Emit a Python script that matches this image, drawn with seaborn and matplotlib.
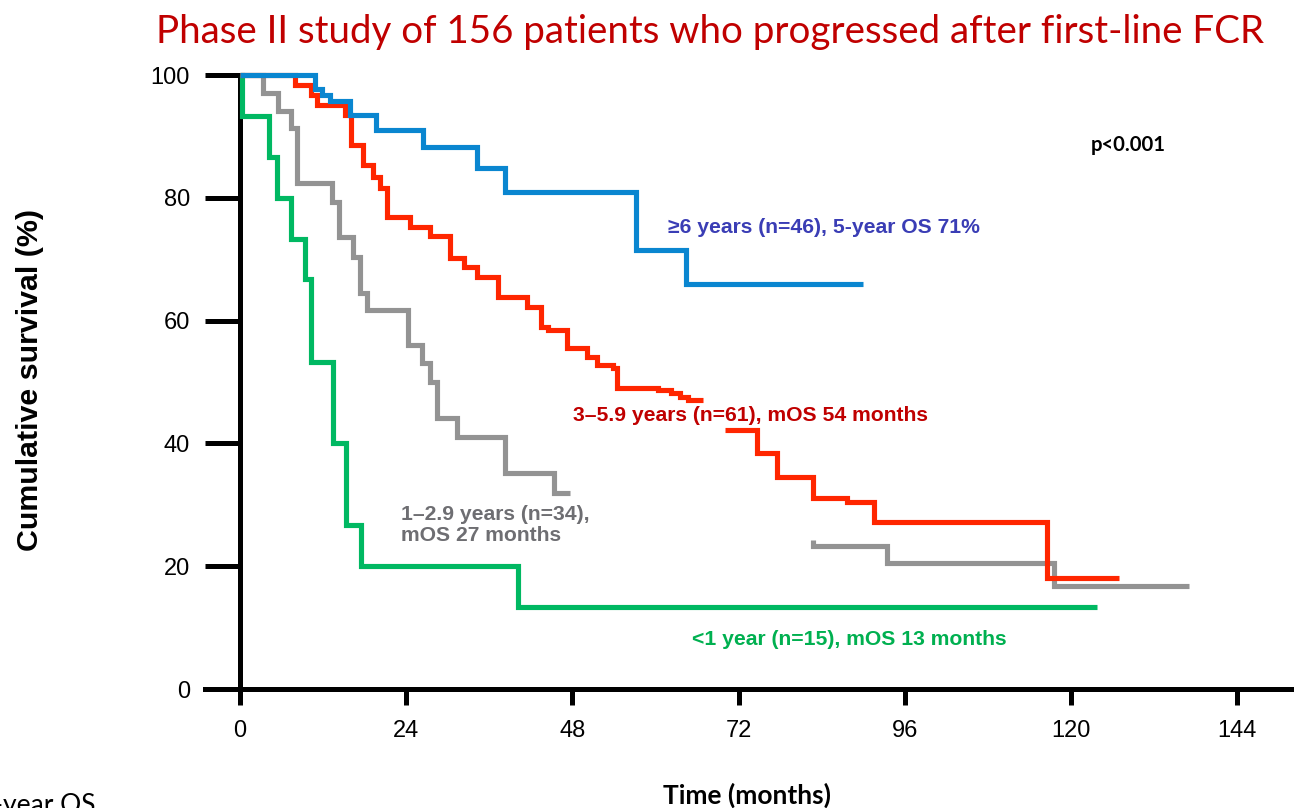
import numpy as np
import pandas as pd
import matplotlib
matplotlib.use("Agg")
import matplotlib.pyplot as plt
import seaborn as sns

# Kaplan-Meier step data: event times (months) and cumulative survival (%)
# >=6 years group
t_6y = [0, 10.8, 11.8, 13.0, 15.9, 19.7, 26.4, 34.3, 38.3, 57.2, 64.4, 90.0]
s_6y = [100, 97.8, 96.7, 95.7, 93.5, 91.1, 88.3, 84.8, 80.9, 71.5, 66.0, 66.0]

# 3-5.9 years group (two drawn pieces)
t_3y_a = [0, 7.9, 10.2, 11.1, 15.2, 16.0, 17.8, 19.2, 20.2, 21.2, 24.6, 27.5,
          30.3, 32.3, 34.2, 37.3, 41.5, 43.4, 44.5, 47.2, 50.1, 51.6, 53.9,
          54.5, 60.3, 62.3, 63.5, 64.7, 66.8]
s_3y_a = [100, 98.4, 96.7, 95.1, 93.5, 88.6, 85.3, 83.4, 81.6, 76.9, 75.2, 73.8,
          70.2, 68.7, 67.1, 63.8, 62.2, 59.0, 58.5, 55.5, 54.1, 52.8, 52.3,
          49.0, 48.7, 48.2, 47.6, 47.1, 47.1]
t_3y_b = [70.1, 74.7, 77.6, 82.7, 87.7, 91.5, 116.6, 126.9]
s_3y_b = [42.2, 38.4, 34.5, 31.1, 30.5, 27.2, 18.1, 18.1]

# 1-2.9 years group (two drawn pieces)
t_1y_a = [0, 3.3, 5.5, 7.4, 8.2, 13.3, 14.3, 16.3, 17.3, 18.3, 24.3, 26.3,
          27.4, 28.5, 31.4, 38.3, 45.3, 47.7]
s_1y_a = [100, 97.1, 94.2, 91.3, 82.4, 79.3, 73.6, 70.4, 64.5, 61.7, 56.0, 53.1,
          50.0, 44.1, 41.0, 35.2, 32.0, 32.0]
t_1y_b = [82.8, 82.8, 93.5, 117.5, 137.1]
s_1y_b = [24.2, 23.3, 20.5, 16.8, 16.8]

# <1 year group
t_lt1 = [0, 0.3, 4.2, 5.4, 7.4, 9.4, 10.3, 13.4, 15.3, 17.5, 40.2, 123.8]
s_lt1 = [100, 93.3, 86.7, 80.0, 73.3, 66.7, 53.3, 40.0, 26.7, 20.0, 13.3, 13.3]

x_ticks = [0, 24, 48, 72, 96, 120, 144]
y_ticks = [0, 20, 40, 60, 80, 100]

title = "Phase II study of 156 patients who progressed after first-line FCR"
lab_6y = "\u22656 years (n=46), 5-year OS 71%"
lab_3y = "3\u20135.9 years (n=61), mOS 54 months"
lab_1y = "1\u20132.9 years (n=34),\nmOS 27 months"
lab_lt1 = "<1 year (n=15), mOS 13 months"

sns.set_theme(style="white")
plt.rcParams["font.family"] = ["Liberation Sans", "DejaVu Sans"]

W, H = 1294, 808
fig = plt.figure(figsize=(W / 100, H / 100), dpi=100)

# axes geometry in pixels
x0_px, px_per_month = 240, 6.924
y0_px, px_per_pct = 689, 6.14
left_px = 205
xmin = (left_px - x0_px) / px_per_month
xmax = (W - x0_px) / px_per_month
ymax = 102
top_px = y0_px - ymax * px_per_pct
ax = fig.add_axes([left_px / W, (H - y0_px) / H, 1 - left_px / W, (y0_px - top_px) / H])

LW = 3.7
blue, red, gray, green = "#0a86d0", "#ff2600", "#939393", "#00b862"

# draw order: green and gray under red, blue on top
pieces = [
    (t_lt1, s_lt1, green),
    (t_1y_a, s_1y_a, gray),
    (t_1y_b, s_1y_b, gray),
    (t_3y_a, s_3y_a, red),
    (t_3y_b, s_3y_b, red),
    (t_6y, s_6y, blue),
]
for t, s, c in pieces:
    df = pd.DataFrame({"t": t, "s": s})
    sns.lineplot(data=df, x="t", y="s", ax=ax, color=c, lw=LW, estimator=None,
                 sort=False, drawstyle="steps-post", solid_joinstyle="miter",
                 solid_capstyle="butt", zorder=3)

ax.set_xlim(xmin, xmax)
ax.set_ylim(0, ymax)
ax.set_xticks(x_ticks)
ax.set_yticks(y_ticks)
ax.set_xlabel("")
ax.set_ylabel("")

for side in ["top", "right"]:
    ax.spines[side].set_visible(False)
ax.spines["left"].set_bounds(0, 100)
ax.spines["left"].set_position(("data", 0))
for side in ["left", "bottom"]:
    ax.spines[side].set_linewidth(3.6)
    ax.spines[side].set_color("black")
    ax.spines[side].set_zorder(2)
ax.tick_params(axis="x", direction="out", length=11.5, width=3.6, color="black",
               labelsize=17, pad=11, bottom=True)
ax.tick_params(axis="y", direction="out", length=25, width=3.6, color="black",
               labelsize=17, pad=11, left=True)
for lab in ax.get_xticklabels() + ax.get_yticklabels():
    lab.set_color("black")
ax.set_facecolor("white")
ax.grid(False)

# curve annotations
ax.text(61.8, 75.2, lab_6y, color="#3a3db5", fontsize=15.2, fontweight="bold",
        ha="left", va="center")
ax.text(48.1, 44.5, lab_3y, color="#c00000", fontsize=15.2, fontweight="bold",
        ha="left", va="center")
ax.text(23.3, 26.7, lab_1y, color="#6e6e72", fontsize=15.2, fontweight="bold",
        ha="left", va="center", linespacing=1.1)
ax.text(65.3, 8.0, lab_lt1, color="#00b050", fontsize=15.2, fontweight="bold",
        ha="left", va="center")
ax.text(122.8, 88.6, "p<0.001", color="black", fontsize=14.6, fontweight="bold",
        ha="left", va="center", family=["Lato", "DejaVu Sans"])

# titles and axis labels
fig.text(710 / W, 1 - 32 / H, title, color="#c00000", fontsize=27.7,
         ha="center", va="center", family=["Lato", "DejaVu Sans"])
fig.text(30 / W, 1 - 380 / H, "Cumulative survival (%)", rotation=90,
         fontsize=21.9, fontweight="bold", ha="center", va="center", color="black")
fig.text(747 / W, 1 - 795 / H, "Time (months)", fontsize=19, fontweight="bold",
         ha="center", va="center", color="black", family=["Lato", "DejaVu Sans"])
fig.text(96 / W, 1 - 813 / H, "5-year OS", fontsize=19, ha="right",
         va="baseline", color="black", family=["Lato", "DejaVu Sans"])

fig.savefig("out.png", dpi=100, facecolor="white")
